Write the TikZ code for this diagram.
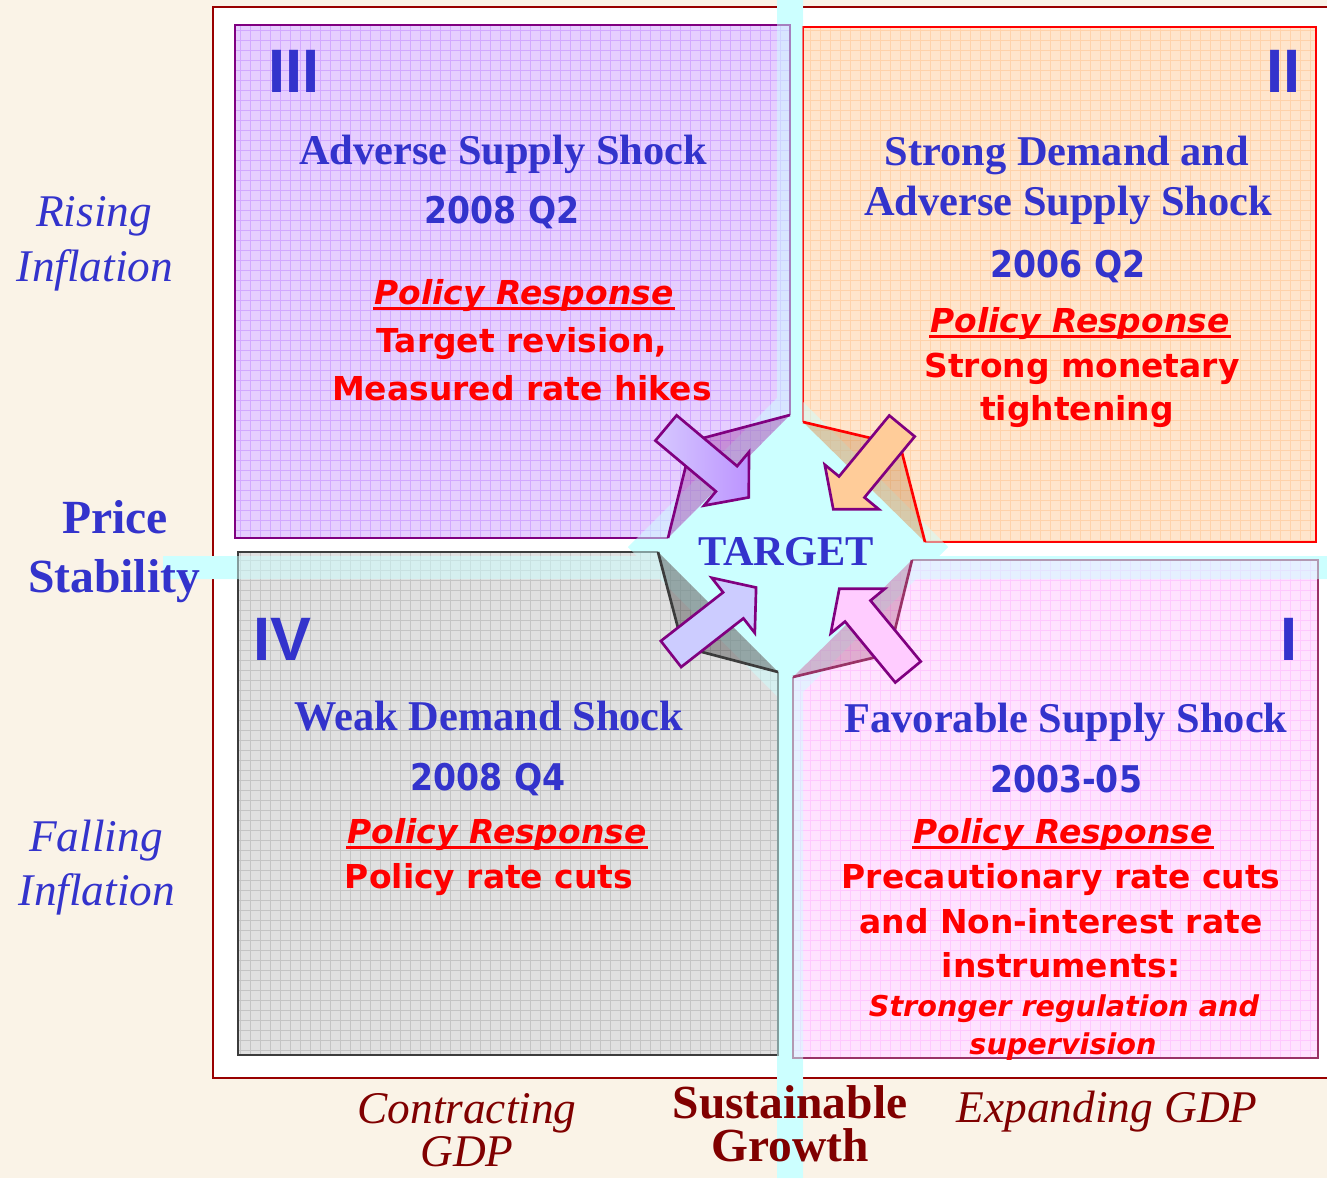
\documentclass[tikz,border=0pt]{standalone}
\usepackage{fontspec}
\setmainfont{Liberation Serif}
\newfontfamily\verdfont{DejaVu Sans}[BoldItalicFont={DejaVu Sans Bold Oblique}]
\newfontfamily\datefont{DejaVu Sans}[FakeStretch=0.9]
\newfontfamily\numfont{Liberation Sans}
\usepackage{tikz}

\definecolor{cream}{RGB}{250,243,231}
\definecolor{framered}{RGB}{153,0,0}
\definecolor{cyanband}{RGB}{204,255,255}
\definecolor{tblue}{RGB}{51,51,204}
\definecolor{dred}{RGB}{128,0,0}
\definecolor{lavfill}{RGB}{230,206,255}
\definecolor{lavgrid}{RGB}{210,168,255}
\definecolor{peachfill}{RGB}{255,229,204}
\definecolor{peachgrid}{RGB}{255,210,170}
\definecolor{grayfill}{RGB}{224,224,224}
\definecolor{graygrid}{RGB}{196,196,196}
\definecolor{pinkfill}{RGB}{255,226,255}
\definecolor{pinkgrid}{RGB}{255,200,255}
\definecolor{mauve}{RGB}{153,51,102}
\definecolor{arrpurple}{RGB}{128,0,128}
\definecolor{darkline}{RGB}{60,60,60}

\tikzset{
  boxline/.style={line width=2.2pt},
  gridline/.style={step=7.5pt, line width=0.5pt},
  flapline/.style={line width=2pt, line join=round},
  arrowline/.style={draw=arrpurple, line width=2pt, line join=miter},
  uline/.style={red, line width=2.4pt},
  title/.style={anchor=base, inner sep=0.75pt, text=tblue,
    font=\bfseries\fontsize{31.8}{36}\selectfont},
  dateline/.style={anchor=base, inner sep=0.75pt, text=tblue,
    font=\datefont\bfseries\fontsize{27.6}{30}\selectfont},
  policy/.style={anchor=base, inner sep=0.75pt, text=red,
    font=\verdfont\bfseries\itshape\fontsize{24.7}{28}\selectfont},
  response/.style={anchor=base, inner sep=0.75pt, text=red,
    font=\verdfont\bfseries\fontsize{24.7}{28}\selectfont},
  smallresp/.style={anchor=base, inner sep=0.75pt, text=red,
    font=\verdfont\bfseries\itshape\fontsize{21.5}{24}\selectfont},
  numeral/.style={inner sep=0pt, text=tblue,
    font=\numfont\bfseries\fontsize{46}{50}\selectfont},
  sidelbl/.style={anchor=base, inner sep=0.75pt, text=tblue,
    font=\itshape\fontsize{34}{38}\selectfont},
  sidebold/.style={anchor=base, inner sep=0.75pt, text=tblue,
    font=\bfseries\fontsize{35.7}{40}\selectfont},
  footlbl/.style={anchor=base, inner sep=0.75pt, text=dred,
    font=\itshape\fontsize{34}{38}\selectfont},
  footbold/.style={anchor=base, inner sep=0.75pt, text=dred,
    font=\bfseries\fontsize{35.6}{40}\selectfont},
}

\begin{document}
\begin{tikzpicture}[x=0.75pt,y=0.75pt,yscale=-1,xscale=1]
\useasboundingbox (0,0) rectangle (1327,1178);
\fill[cream] (0,0) rectangle (1327,1178);
% frame
\draw[framered, line width=2.2pt, fill=white] (213,7) rectangle (1345,1078);
% cross and centre
\fill[cyanband] (777,0) rectangle (803,1178);
\fill[cyanband] (163,556) rectangle (1327,579);
\fill[cyanband] (628,547) -- (788,387) -- (948,547) -- (788,707) -- cycle;

% III
\begin{scope}
\clip (235,25) -- (790,25) -- (790,415) -- (668,538) -- (235,538) -- cycle;
\fill[lavfill] (235,25) rectangle (790,538);
\draw[lavgrid, gridline] (235,25) grid (790,538);
\end{scope}
\draw[boxline, arrpurple] (668,538) -- (235,538) -- (235,25) -- (790,25) -- (790,415);

% II
\begin{scope}
\clip (803,27) -- (1316,27) -- (1316,542) -- (925,542) -- (803,422) -- cycle;
\fill[peachfill] (803,27) rectangle (1316,542);
\draw[peachgrid, gridline] (803,27) grid (1316,542);
\end{scope}
\draw[boxline, red] (803,422) -- (803,27) -- (1316,27) -- (1316,542) -- (925,542);

% IV
\begin{scope}
\clip (238,552) -- (658,552) -- (778,672) -- (778,1055) -- (238,1055) -- cycle;
\fill[grayfill] (238,552) rectangle (778,1055);
\draw[graygrid, gridline] (238,552) grid (778,1055);
\end{scope}
\draw[boxline, darkline] (658,552) -- (238,552) -- (238,1055) -- (778,1055) -- (778,672);

% I
\begin{scope}
\clip (912,560) -- (1318,560) -- (1318,1058) -- (793,1058) -- (793,677) -- cycle;
\fill[pinkfill] (793,560) rectangle (1318,1058);
\draw[pinkgrid, gridline] (793,560) grid (1318,1058);
\end{scope}
\draw[boxline, mauve] (912,560) -- (1318,560) -- (1318,1058) -- (793,1058) -- (793,677);

% cyan over the boxes
\begin{scope}[transparency group, opacity=0.5]
\fill[cyanband] (777,0) rectangle (803,1178);
\fill[cyanband] (163,556) rectangle (1327,579);
\fill[cyanband] (628,547) -- (788,387) -- (948,547) -- (788,707) -- cycle;
\end{scope}

% folded corners
\draw[flapline, arrpurple, fill=arrpurple, fill opacity=0.3] (790,415) -- (692,441) -- (668,538);
\draw[flapline, red, fill=brown, fill opacity=0.35] (803,422) -- (900,445) -- (925,542);
\draw[flapline, darkline, fill=black, fill opacity=0.3] (658,552) -- (683,647) -- (778,672);
\draw[flapline, mauve, fill=mauve, fill opacity=0.3] (912,560) -- (889,654) -- (793,677);

% arrows to the target
\draw[arrowline, left color={rgb,255:red,214;green,200;blue,255}, right color={rgb,255:red,188;green,148;blue,255}, shift={(666,428)}, rotate=40]
  (0,-16.5) -- (79,-16.5) -- (79,-35) -- (108,0) -- (79,35) -- (79,16.5) -- (0,16.5) -- cycle;
\draw[arrowline, fill={rgb,255:red,255;green,204;blue,153}, shift={(902,426)}, rotate=129.5]
  (0,-16.5) -- (79,-16.5) -- (79,-35) -- (108,0) -- (79,35) -- (79,16.5) -- (0,16.5) -- cycle;
\draw[arrowline, fill={rgb,255:red,204;green,204;blue,255}, shift={(671,654)}, rotate=-38]
  (0,-16.5) -- (79,-16.5) -- (79,-35) -- (108,0) -- (79,35) -- (79,16.5) -- (0,16.5) -- cycle;
\draw[arrowline, fill={rgb,255:red,255;green,204;blue,255}, shift={(908,672)}, rotate=-129.5]
  (0,-16.5) -- (79,-16.5) -- (79,-35) -- (108,0) -- (79,35) -- (79,16.5) -- (0,16.5) -- cycle;

\draw (786,565) node [title] (target) {TARGET};

% numerals
\draw (268,92) node [numeral, anchor=base west] (numIII) {III};
\draw (1301,92) node [numeral, anchor=base east] (numII) {II};
\draw (253,660) node [numeral, anchor=base west] (numIV) {IV};
\draw (1298,660) node [numeral, anchor=base east] (numI) {I};

% III text
\draw (503,164) node [title] (hIII) {Adverse Supply Shock};
\draw (502,223) node [dateline] (dIII) {2008 Q2};
\draw (524,304) node [policy] (pIII) {Policy Response};
\draw (522,352) node [response] (rIIIa) {Target revision,};
\draw (522,400) node [response] (rIIIb) {Measured rate hikes};

% II text
\draw (1067,165) node [title] (hIIa) {Strong Demand and};
\draw (1068,215) node [title] (hIIb) {Adverse Supply Shock};
\draw (1068,277) node [dateline] (dII) {2006 Q2};
\draw (1080,332) node [policy] (pII) {Policy Response};
\draw (1082,377) node [response] (rIIa) {Strong monetary};
\draw (1077,420) node [response] (rIIb) {tightening};

% IV text
\draw (489,730) node [title] (hIV) {Weak Demand Shock};
\draw (488,790) node [dateline] (dIV) {2008 Q4};
\draw (497,843) node [policy] (pIV) {Policy Response};
\draw (489,888) node [response] (rIV) {Policy rate cuts};

% I text
\draw (1066,732) node [title] (hI) {Favorable Supply Shock};
\draw (1066,792) node [dateline] (dI) {2003-05};
\draw (1063,843) node [policy] (pI) {Policy Response};
\draw (1061,888) node [response] (rIa) {Precautionary rate cuts};
\draw (1061,933) node [response] (rIb) {and Non-interest rate};
\draw (1061,977) node [response] (rIc) {instruments:};
\draw (1064,1016) node [smallresp] (rId) {Stronger regulation and};
\draw (1063,1054) node [smallresp] (rIe) {supervision};

% underlines
\draw[uline] ([yshift=3.6pt]pIII.base west) -- ([yshift=3.6pt]pIII.base east);
\draw[uline] ([yshift=3.6pt]pII.base west) -- ([yshift=3.6pt]pII.base east);
\draw[uline] ([yshift=3.6pt]pIV.base west) -- ([yshift=3.6pt]pIV.base east);
\draw[uline] ([yshift=3.6pt]pI.base west) -- ([yshift=3.6pt]pI.base east);

% axis labels
\draw (94,226) node [sidelbl] (rise1) {Rising};
\draw (95,281) node [sidelbl] (rise2) {Inflation};
\draw (115,533) node [sidebold] (stab1) {Price};
\draw (114,592) node [sidebold] (stab2) {Stability};
\draw (96,851) node [sidelbl] (fall1) {Falling};
\draw (97,905) node [sidelbl] (fall2) {Inflation};
\draw (467,1123) node [footlbl] (contr1) {Contracting};
\draw (467,1166) node [footlbl] (contr2) {GDP};
\draw (790,1118) node [footbold] (grow1) {Sustainable};
\draw (790,1161) node [footbold] (grow2) {Growth};
\draw (1107,1122) node [footlbl] (expand) {Expanding GDP};
\end{tikzpicture}
\end{document}
